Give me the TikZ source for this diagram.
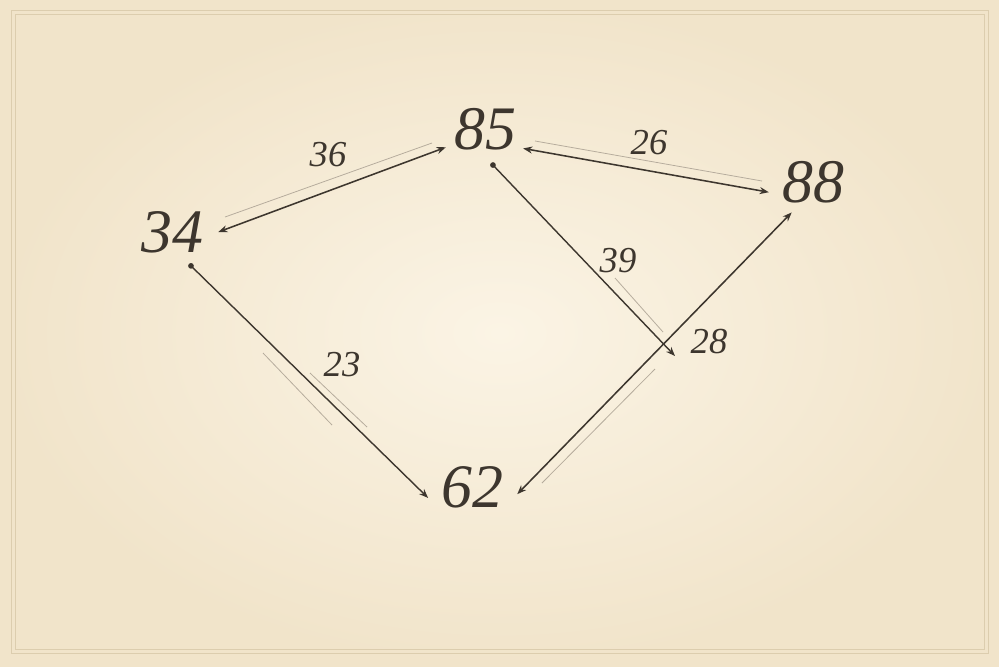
\documentclass[tikz,border=0pt]{standalone}
\usepackage{fontspec}
\usepackage{tikz}
\usetikzlibrary{shapes.geometric}
\usetikzlibrary{arrows.meta}

\newfontfamily\numfont{Liberation Serif}

\definecolor{paper}{HTML}{FBF4E5}
\definecolor{paperedge}{HTML}{F1E4CA}
\definecolor{frameline}{HTML}{DCCDAE}
\definecolor{ink}{HTML}{3D362E}
\definecolor{faint}{HTML}{B5AB9C}

\tikzset{
wtip/.tip={Stealth[length=6.5pt,width=5pt]},
dtip/.tip={Circle[length=4pt]},
}

\begin{document}
\begin{tikzpicture}[x=0.025cm, y=-0.025cm,
valnode/.style={ellipse, minimum width=2.3cm, minimum height=1.7cm, inner sep=0pt, text=ink, font=\numfont\fontsize{44}{50}\selectfont\itshape},
weightnode/.style={inner sep=0pt, text=ink, font=\numfont\fontsize{26}{30}\selectfont\itshape},
bothway/.style={draw=ink, line width=1.1pt, arrows={wtip-wtip}},
oneway/.style={draw=ink, line width=1pt, arrows={dtip-wtip}},
shadowline/.style={draw=faint, line width=0.55pt},
]

% Paper background and double frame
\useasboundingbox (0,0) rectangle (999,666);
\shade[inner color=paper, outer color=paperedge] (0,0) rectangle (999,666);
\draw[frameline, line width=0.6pt] (11,10) rectangle (988,653);
\draw[frameline, line width=0.4pt] (15,14) rectangle (984,649);

% Value nodes
\node[valnode] (n85) at (485,129) {85};
\node[valnode] (n88) at (813,182) {88};
\node[valnode] (n34) at (172,232) {34};
\node[valnode] (n62) at (472,487) {62};
\coordinate (tip39) at (675,356);

% Edges
\draw[bothway] (n34.0) -- (n85.205);
\draw[bothway] (n85.333) -- (n88.193);
\draw[oneway] (n85.280) -- (tip39);
\draw[oneway] (n34.298) -- (n62.194);
\draw[bothway] (n62.351) -- (n88.235);

% Faint strokes beside the edges
\draw[shadowline] (225,217) -- (432,143);
\draw[shadowline] (535,141) -- (762,181);
\draw[shadowline] (615,278) -- (663,332);
\draw[shadowline] (263,353) -- (332,425);
\draw[shadowline] (310,373) -- (367,427);
\draw[shadowline] (655,369) -- (542,483);

% Edge weights
\node[weightnode] (w36) at (328,155) {36};
\node[weightnode] (w26) at (649,143) {26};
\node[weightnode] (w39) at (618,261) {39};
\node[weightnode] (w23) at (342,365) {23};
\node[weightnode] (w28) at (709,342) {28};
\end{tikzpicture}
\end{document}
